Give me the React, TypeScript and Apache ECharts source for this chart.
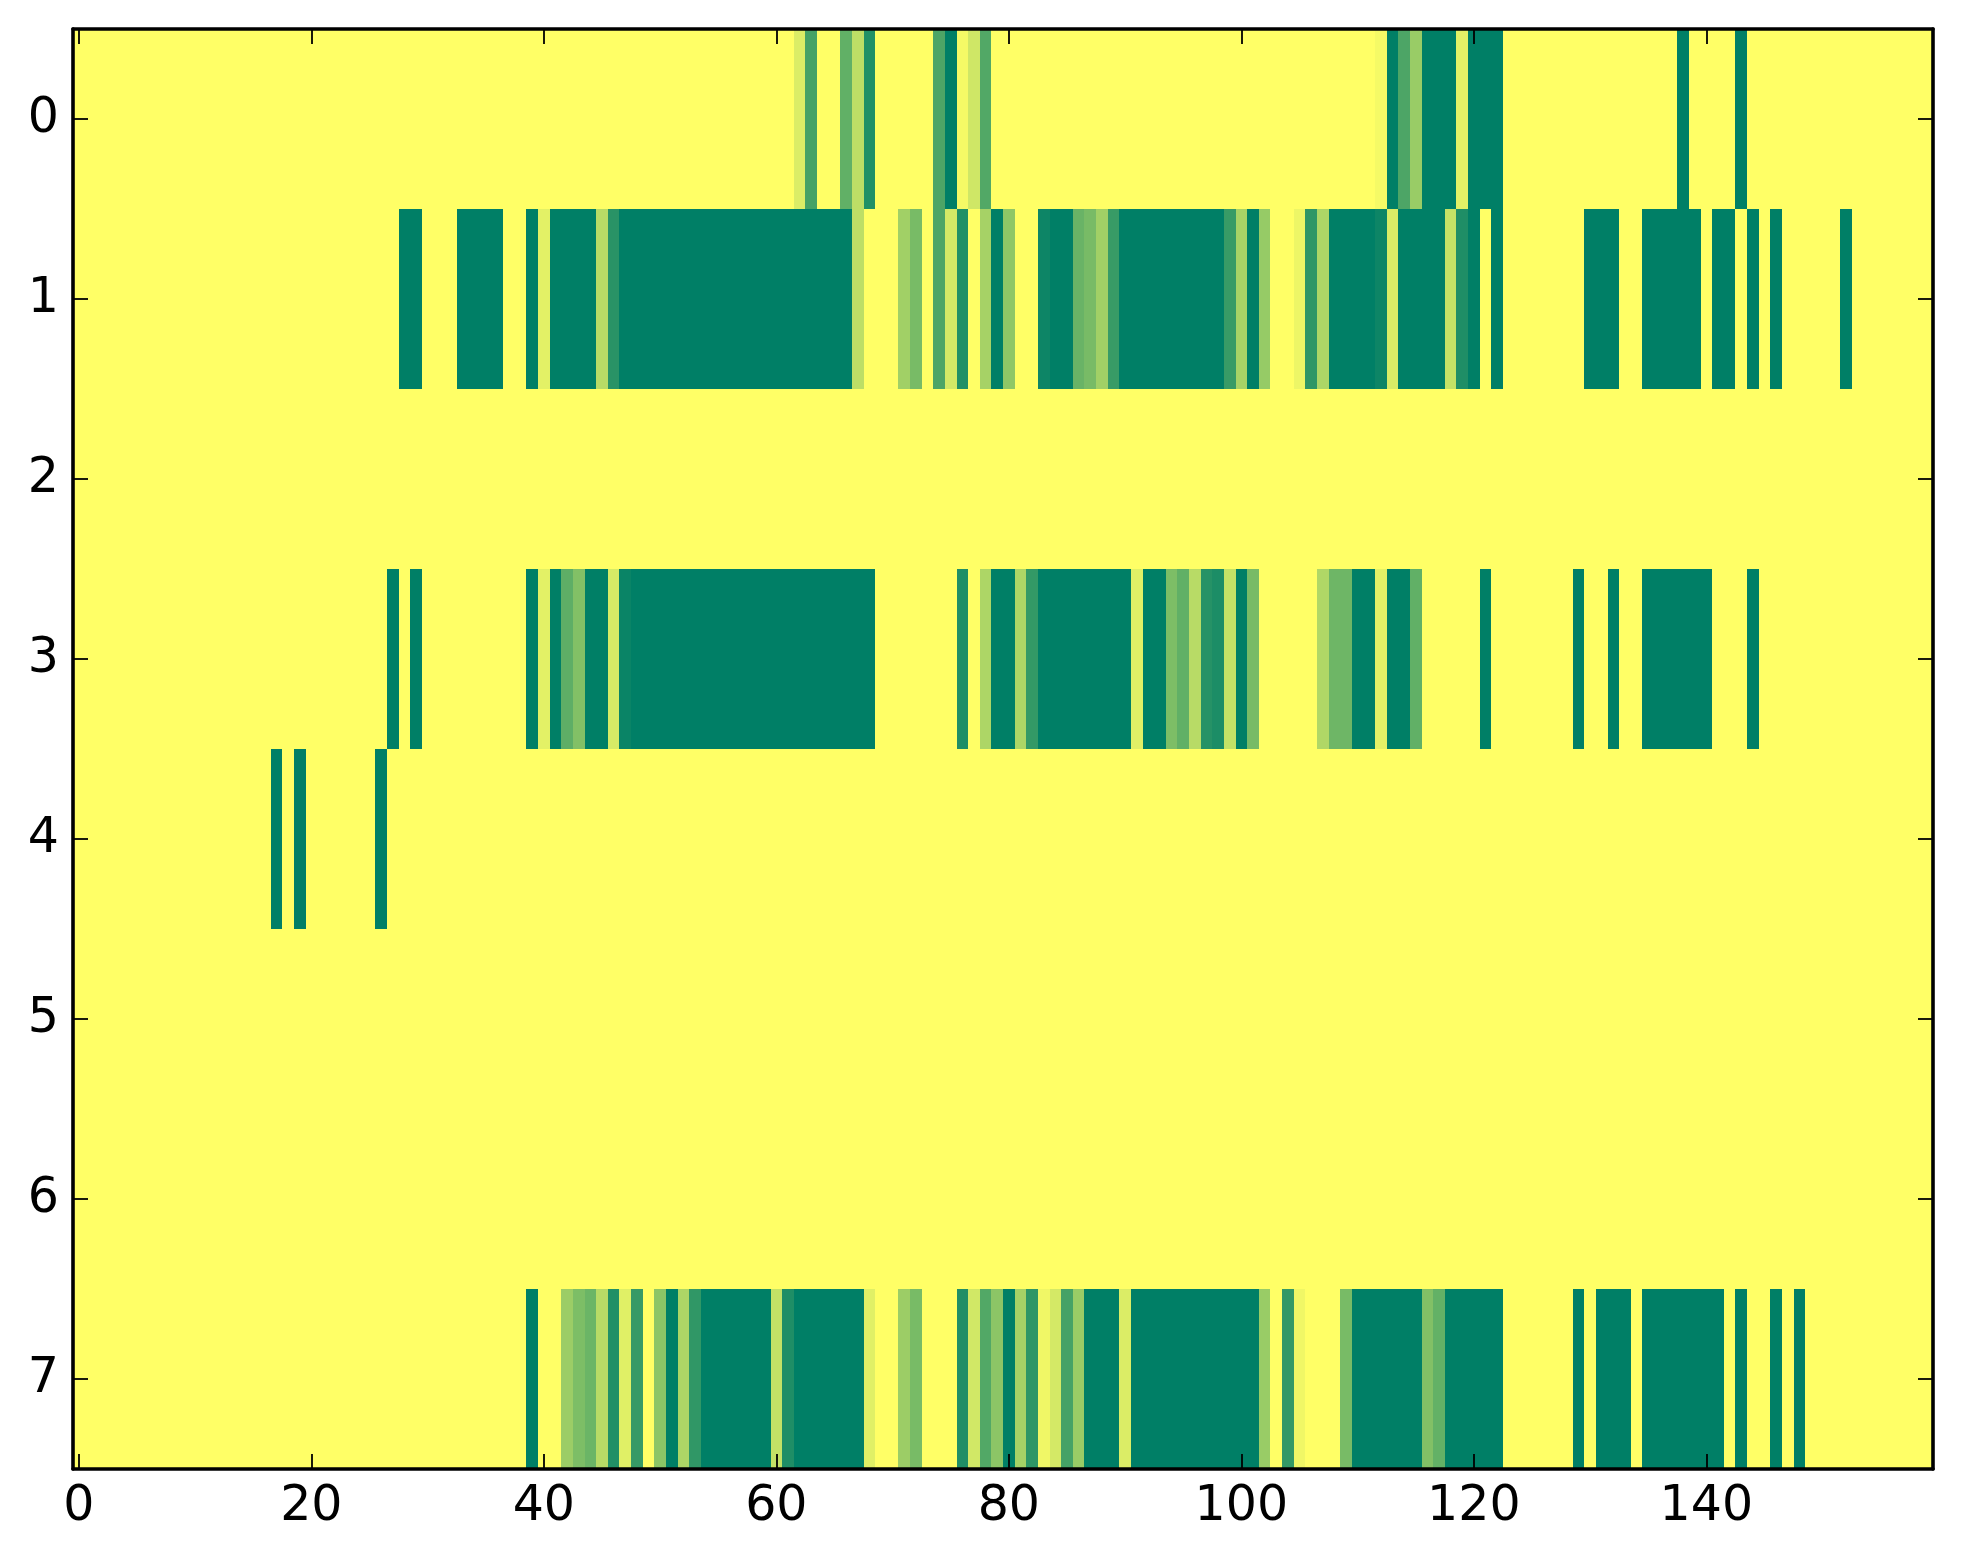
import React, { useEffect, useRef } from "react";
import * as echarts from "echarts";

// Runs of non-zero cells per row: [first column, last column, value]
const row0 = [[62,62,.14],[63,63,.73],[66,66,.62],[67,67,.26],[68,68,.87],[74,74,.7],[75,75,1],[76,76,.04],[77,77,.19],[78,78,.68],[112,112,.04],[113,113,1],[114,114,.7],[115,115,.4],[116,118,1],[119,119,.11],[120,122,1],[138,138,1],[143,143,1]];
const row1 = [[28,29,1],[33,36,1],[39,39,1],[40,40,.11],[41,44,1],[45,45,.28],[46,46,.84],[47,66,1],[67,67,.26],[71,71,.37],[72,72,.53],[74,74,.7],[75,75,.17],[76,76,.87],[78,78,.35],[79,79,1],[80,80,.44],[83,83,.95],[84,85,1],[86,86,.59],[87,87,.53],[88,88,.37],[89,89,.78],[90,98,1],[99,99,.78],[100,100,.34],[101,101,1],[102,102,.41],[105,105,.07],[106,106,.82],[107,107,.32],[108,111,1],[112,112,.95],[113,113,.15],[114,117,1],[118,118,.23],[119,119,.88],[120,120,1],[122,122,1],[130,132,1],[135,139,1],[141,142,1],[144,144,1],[146,146,1],[152,152,1]];
const row2: number[][] = [];
const row3 = [[27,27,1],[29,29,1],[39,39,1],[40,40,.11],[41,41,1],[42,42,.63],[43,43,.49],[44,45,1],[46,46,.16],[47,47,.96],[48,68,1],[76,76,.88],[78,78,.32],[79,80,1],[81,81,.32],[82,82,.8],[83,90,1],[91,91,.12],[92,93,1],[94,94,.51],[95,95,.62],[96,96,.28],[97,97,.85],[98,98,.89],[99,99,.23],[100,100,1],[101,101,.53],[107,107,.31],[108,109,.57],[110,111,1],[112,112,.11],[113,114,1],[115,115,.62],[121,121,1],[129,129,1],[132,132,1],[135,140,1],[144,144,1]];
const row4 = [[17,17,1],[19,19,1],[26,26,1]];
const row5: number[][] = [];
const row6: number[][] = [];
const row7 = [[39,39,1],[42,42,.39],[43,43,.51],[44,44,.58],[45,45,.28],[46,46,.87],[47,47,.12],[48,48,.79],[50,50,.45],[51,51,1],[52,52,.32],[53,53,.81],[54,59,1],[60,60,.23],[61,61,.88],[62,67,1],[68,68,.12],[71,71,.39],[72,72,.53],[76,76,.88],[77,77,.18],[78,78,.68],[79,79,.45],[80,80,1],[81,81,.35],[82,82,.82],[83,83,.06],[84,84,.17],[85,85,.73],[86,86,.4],[87,89,1],[90,90,.14],[91,101,1],[102,102,.4],[104,104,.8],[105,105,.06],[109,109,.53],[110,115,1],[116,116,.49],[117,117,.61],[118,122,1],[129,129,1],[131,133,1],[135,141,1],[143,143,1],[146,146,1],[148,148,1]];

const rows = [row0, row1, row2, row3, row4, row5, row6, row7];
const columnCount = 160;
const xCategories = Array.from({ length: columnCount }, (_, i) => String(i));
const yCategories = rows.map((_, i) => String(i));

function buildCells() {
  const cells: number[][] = [];
  rows.forEach((runs, y) => {
    const values = new Array(columnCount).fill(0);
    runs.forEach(([a, b, v]) => {
      for (let x = a; x <= b; x++) values[x] = v;
    });
    values.forEach((v, x) => cells.push([x, y, v]));
  });
  return cells;
}

const FONT = "DejaVu Sans";
const FONT_SIZE = 49;
const frame = { show: true, onZero: false, lineStyle: { color: "#000", width: 3.6 } };
const tick = { show: true, inside: true, length: 15, alignWithLabel: true, lineStyle: { color: "#000", width: 1.8 } };

function renderCell(params: any, api: any) {
  const [cx, cy] = api.coord([api.value(0), api.value(1)]);
  const [w, h] = api.size([1, 1]);
  const left = Math.round(cx - w / 2);
  const right = Math.round(cx + w / 2);
  const top = Math.round(cy - h / 2);
  const bottom = Math.round(cy + h / 2);
  return {
    type: "rect",
    shape: { x: left, y: top, width: right - left, height: bottom - top },
    style: { fill: api.visual("color") },
  };
}

export default function App() {
  const ref = useRef<HTMLDivElement>(null);
  useEffect(() => {
    const chart = echarts.init(ref.current!, null, { renderer: "svg" });
    const label = { fontFamily: FONT, fontSize: FONT_SIZE, color: "#000" };
    chart.setOption({
      animation: false,
      backgroundColor: "#fff",
      grid: { left: 73, right: 30, top: 29, bottom: 95, containLabel: false },
      tooltip: { show: false },
      visualMap: { show: false, type: "continuous", min: 0, max: 1, dimension: 2, inRange: { color: ["#ffff66", "#007f66"] } },
      xAxis: [
        { type: "category", position: "bottom", data: xCategories, z: 10, axisLine: frame,
          axisTick: { ...tick, interval: 19 }, splitLine: { show: false },
          axisLabel: { ...label, interval: 19, margin: 10 } },
        { type: "category", position: "top", data: xCategories, z: 10, axisLine: frame,
          axisTick: { ...tick, interval: 19 }, splitLine: { show: false }, axisLabel: { show: false } },
      ],
      yAxis: [
        { type: "category", position: "left", inverse: true, data: yCategories, z: 10, axisLine: frame,
          axisTick: { ...tick, interval: 0 }, splitLine: { show: false },
          axisLabel: { ...label, interval: 0, margin: 14, verticalAlign: "bottom", lineHeight: 7 } },
        { type: "category", position: "right", inverse: true, data: yCategories, z: 10, axisLine: frame,
          axisTick: { ...tick, interval: 0 }, splitLine: { show: false }, axisLabel: { show: false } },
      ],
      series: [{
        type: "custom", coordinateSystem: "cartesian2d", data: buildCells(), xAxisIndex: 0, yAxisIndex: 0,
        encode: { x: 0, y: 1 }, renderItem: renderCell, progressive: 0, silent: true, clip: true, z: 2,
      }],
    });
    return () => chart.dispose();
  }, []);
  return <div ref={ref} style={{ position: "absolute", left: 0, top: 0, width: 1963, height: 1564 }} />;
}
